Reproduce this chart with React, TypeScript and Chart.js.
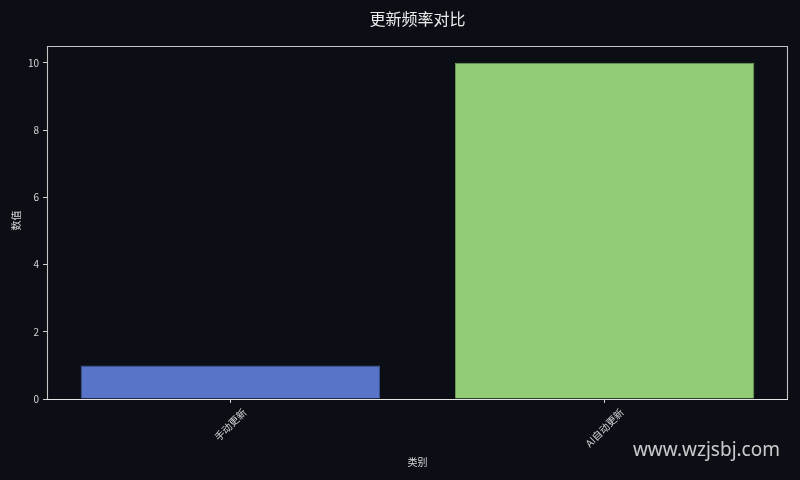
import React, { useEffect, useRef } from "react";
import { Chart, registerables } from "chart.js";

Chart.register(...registerables);

const TITLE = "更新频率对比";
const CATEGORIES = ["手动更新", "AI自动更新"];
const VALUES = [1, 10];
const BAR_COLORS = ["#5874c8", "#93cc76"];
const BAR_EDGES = ["#3f5596", "#6f9e5a"];
const Y_TICKS = [0, 2, 4, 6, 8, 10];
const Y_LABEL = "数值";
const X_LABEL = "类别";
const WATERMARK = "www.wzjsbj.com";

const BG = "#0b0e15";
const CJK = '"Noto Sans CJK SC", "Noto Sans", sans-serif';

const overlay = {
  id: "overlay",
  beforeDraw(chart: any) {
    const { ctx, width, height } = chart;
    ctx.save();
    ctx.fillStyle = BG;
    ctx.fillRect(0, 0, width, height);
    ctx.restore();
  },
  afterDraw(chart: any) {
    const { ctx } = chart;
    const { left, right, top, bottom } = chart.chartArea;
    const xs = chart.scales.x;
    ctx.save();
    // axes box
    ctx.lineWidth = 1.1;
    ctx.strokeStyle = "#c4c4c4";
    ctx.beginPath();
    ctx.moveTo(left + 0.5, bottom);
    ctx.lineTo(left + 0.5, top + 0.5);
    ctx.lineTo(right - 0.5, top + 0.5);
    ctx.lineTo(right - 0.5, bottom);
    ctx.stroke();
    ctx.strokeStyle = "#e6e6e6";
    ctx.beginPath();
    ctx.moveTo(left, bottom + 0.5);
    ctx.lineTo(right, bottom + 0.5);
    ctx.stroke();

    // title
    ctx.fillStyle = "#ececec";
    ctx.font = `16px ${CJK}`;
    ctx.textAlign = "center";
    ctx.textBaseline = "middle";
    ctx.fillText(TITLE, (left + right) / 2, 18.5);

    // x tick labels, rotated 45deg, centered on tick
    ctx.font = `10px ${CJK}`;
    ctx.fillStyle = "#d6d6d6";
    CATEGORIES.forEach((label, i) => {
      const x = xs.getPixelForValue(i);
      const w = ctx.measureText(label).width;
      const h = 10;
      const half = ((w + h) * Math.SQRT1_2) / 2;
      ctx.save();
      ctx.translate(x, bottom + 8 + half);
      ctx.rotate(-Math.PI / 4);
      ctx.textAlign = "center";
      ctx.textBaseline = "middle";
      ctx.fillText(label, 0, 0);
      ctx.restore();
    });

    // axis titles
    ctx.textAlign = "center";
    ctx.textBaseline = "middle";
    ctx.fillText(X_LABEL, (left + right) / 2, 462);
    ctx.save();
    ctx.translate(16, (top + bottom) / 2 - 2);
    ctx.rotate(-Math.PI / 2);
    ctx.fillText(Y_LABEL, 0, 0);
    ctx.restore();

    // watermark
    ctx.font = `19px "Noto Sans", "Open Sans", sans-serif`;
    ctx.fillStyle = "rgba(235,235,235,0.85)";
    ctx.textAlign = "right";
    ctx.textBaseline = "alphabetic";
    ctx.fillText(WATERMARK, 780, 456);
    ctx.restore();
  },
};

export default function App() {
  const ref = useRef<HTMLCanvasElement | null>(null);
  useEffect(() => {
    if (!ref.current) return;
    const chart = new Chart(ref.current, {
      type: "bar",
      data: {
        datasets: [
          {
            data: VALUES.map((v, i) => ({ x: i, y: v })) as any,
            backgroundColor: BAR_COLORS,
            borderColor: BAR_EDGES,
            borderWidth: 1,
            categoryPercentage: 1,
            barPercentage: 0.8,
          },
        ],
      },
      options: {
        animation: false,
        responsive: true,
        maintainAspectRatio: false,
        devicePixelRatio: 1,
        layout: { padding: { top: 46, right: 12, left: 0, bottom: 0 } },
        plugins: {
          legend: { display: false },
          tooltip: { enabled: false },
          title: { display: false },
        },
        scales: {
          x: {
            type: "linear",
            min: -0.49,
            max: CATEGORIES.length - 1 + 0.49,
            offset: false,
            afterBuildTicks: (s: any) => {
              s.ticks = CATEGORIES.map((_, i) => ({ value: i }));
            },
            afterFit: (s: any) => {
              s.height = 81;
            },
            ticks: { display: false },
            grid: {
              display: true,
              drawOnChartArea: false,
              drawTicks: true,
              tickLength: 4,
              color: "#d0d0d0",
              offset: false,
            },
            border: { display: false },
          },
          y: {
            type: "linear",
            min: 0,
            max: 10.5,
            afterBuildTicks: (s: any) => {
              s.ticks = Y_TICKS.map((v) => ({ value: v }));
            },
            afterFit: (s: any) => {
              s.width = 47;
            },
            ticks: {
              color: "#d6d6d6",
              font: { family: CJK, size: 10 },
              padding: 4,
            },
            grid: {
              display: true,
              drawOnChartArea: false,
              drawTicks: true,
              tickLength: 4,
              color: "#d0d0d0",
            },
            border: { display: false },
          },
        },
      },
      plugins: [overlay],
    });
    return () => chart.destroy();
  }, []);
  return (
    <div
      style={{
        position: "fixed",
        left: 0,
        top: 0,
        width: 800,
        height: 480,
        background: BG,
      }}
    >
      <canvas ref={ref} />
    </div>
  );
}
